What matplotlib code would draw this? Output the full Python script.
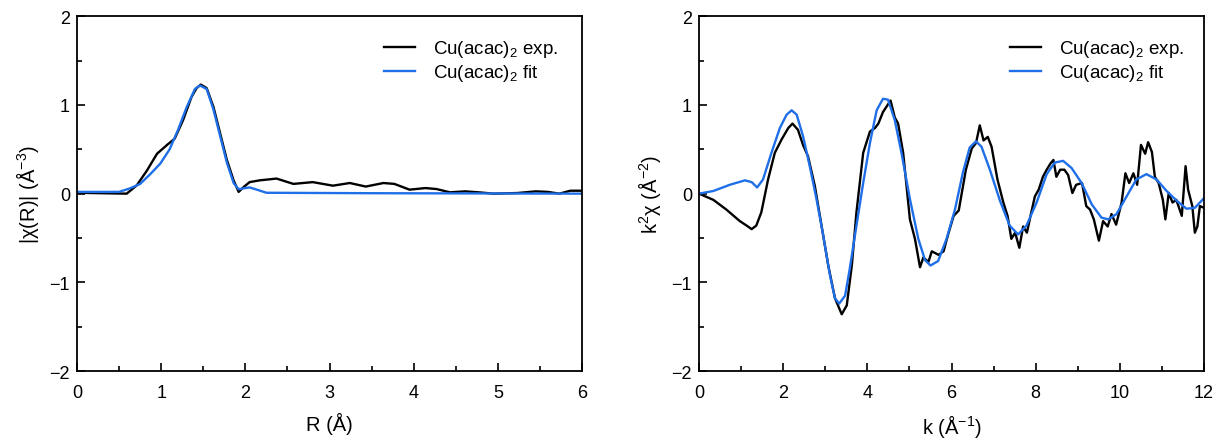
import matplotlib
matplotlib.use("Agg")
import matplotlib.pyplot as plt
from matplotlib.ticker import MultipleLocator

plt.rcParams['font.family'] = ['Liberation Sans', 'DejaVu Sans']
plt.rcParams['mathtext.default'] = 'regular'

#------------- DATA -------------#
# |chi(R)| experimental
r_exp = [0.0, 0.3, 0.59, 0.71, 0.83, 0.95, 1.07, 1.16, 1.26, 1.36, 1.42, 1.47, 1.54, 1.62,
         1.70, 1.78, 1.86, 1.92, 1.98, 2.05, 2.17, 2.37, 2.57, 2.8, 3.04, 3.24, 3.43,
         3.64, 3.77, 3.95, 4.14, 4.27, 4.43, 4.61, 4.77, 4.95, 5.23, 5.45, 5.59, 5.73,
         5.86, 6.0]
chir_exp = [0.01, 0.005, 0.0, 0.094, 0.26, 0.45, 0.55, 0.62, 0.83, 1.09, 1.19, 1.23, 1.19, 0.98,
            0.68, 0.38, 0.15, 0.02, 0.075, 0.13, 0.15, 0.17, 0.11, 0.13, 0.09, 0.12, 0.08,
            0.12, 0.11, 0.045, 0.063, 0.052, 0.015, 0.026, 0.015, 0.0, 0.007, 0.026, 0.02, 0.0,
            0.033, 0.033]

# |chi(R)| fit
r_fit = [0.0, 0.3, 0.5, 0.63, 0.75, 0.87, 0.99, 1.1, 1.2, 1.3, 1.4, 1.46, 1.54, 1.62,
         1.70, 1.78, 1.86, 1.92, 1.98, 2.05, 2.12, 2.25, 2.73, 3.5, 4.5, 6.0]
chir_fit = [0.02, 0.02, 0.02, 0.06, 0.11, 0.22, 0.34, 0.5, 0.72, 0.97, 1.18, 1.22, 1.18, 0.95,
            0.65, 0.35, 0.12, 0.05, 0.06, 0.07, 0.05, 0.01, 0.008, 0.005, 0.003, 0.0]

# k^2 chi(k) experimental
k_exp = [0.0, 0.34, 0.65, 0.97, 1.13, 1.25, 1.36, 1.48, 1.64, 1.80, 1.96, 2.12, 2.22, 2.35,
         2.47, 2.59, 2.75, 2.91, 3.07, 3.23, 3.39, 3.51, 3.63, 3.74, 3.90, 4.06, 4.18, 4.26,
         4.37, 4.55, 4.65, 4.73, 4.85, 5.01, 5.13, 5.25, 5.33, 5.45, 5.53, 5.69, 5.81, 5.93,
         6.05, 6.17, 6.34, 6.48, 6.58, 6.67, 6.76, 6.86, 6.95, 7.09,
         7.23, 7.33, 7.42, 7.51, 7.61, 7.7, 7.79, 7.89, 7.98, 8.07, 8.17, 8.26, 8.35, 8.42,
         8.49, 8.58, 8.68, 8.77, 8.87, 8.96, 9.1, 9.2, 9.29, 9.38, 9.5, 9.6, 9.71, 9.8,
         9.91, 10.04, 10.13, 10.22, 10.32, 10.41, 10.5, 10.6, 10.67, 10.76, 10.83, 10.92,
         11.02, 11.08, 11.16, 11.25, 11.34, 11.47, 11.56, 11.62, 11.72, 11.78, 11.84, 11.9, 12.0]
kchi_exp = [0.0, -0.07, -0.18, -0.31, -0.36, -0.40, -0.36, -0.21, 0.16, 0.46, 0.61, 0.74, 0.79, 0.72,
            0.55, 0.42, 0.09, -0.36, -0.81, -1.18, -1.36, -1.26, -0.81, -0.21, 0.46, 0.70, 0.74, 0.79,
            0.92, 1.05, 0.86, 0.79, 0.46, -0.29, -0.51, -0.83, -0.72, -0.77, -0.65, -0.69, -0.65, -0.44,
            -0.25, -0.19, 0.27, 0.51, 0.57, 0.77, 0.6, 0.64, 0.53, 0.16,
            -0.1, -0.25, -0.51, -0.44, -0.61, -0.37, -0.44, -0.22, -0.03, 0.045, 0.19, 0.27, 0.34, 0.38,
            0.19, 0.27, 0.27, 0.21, 0.007, 0.1, 0.12, -0.14, -0.18, -0.29, -0.53, -0.31, -0.37, -0.23,
            -0.35, -0.1, 0.23, 0.12, 0.23, 0.1, 0.55, 0.45, 0.58, 0.47, 0.19, 0.12,
            -0.07, -0.29, 0.007, -0.1, -0.07, -0.25, 0.31, 0.045, -0.14, -0.44, -0.37, -0.14, -0.16]

# k^2 chi(k) fit
k_fit = [0.0, 0.34, 0.73, 1.09, 1.25, 1.38, 1.52, 1.72, 1.92, 2.08, 2.20, 2.32, 2.47, 2.63,
         2.79, 2.95, 3.11, 3.23, 3.33, 3.47, 3.58, 3.74, 3.90, 4.06, 4.22, 4.37, 4.49, 4.65,
         4.81, 5.01, 5.21, 5.37, 5.50, 5.68, 5.88, 6.08, 6.27, 6.43, 6.58, 6.71, 6.91, 7.15,
         7.38, 7.58, 7.78, 8.02, 8.26, 8.45, 8.65, 8.85, 9.09, 9.33, 9.56, 9.72, 9.92, 10.16,
         10.39, 10.63, 10.87, 11.11, 11.35, 11.58, 11.78, 12.0]
kchi_fit = [0.0, 0.03, 0.10, 0.15, 0.13, 0.07, 0.16, 0.46, 0.74, 0.89, 0.94, 0.89, 0.65, 0.31,
            -0.06, -0.47, -0.92, -1.18, -1.24, -1.15, -0.85, -0.36, 0.12, 0.57, 0.94, 1.07, 1.06, 0.83,
            0.46, -0.06, -0.51, -0.75, -0.81, -0.76, -0.51, -0.18, 0.24, 0.52, 0.59, 0.53, 0.27, -0.08,
            -0.36, -0.46, -0.36, -0.10, 0.22, 0.35, 0.37, 0.29, 0.12, -0.12, -0.27, -0.29, -0.23, -0.03,
            0.16, 0.22, 0.16, 0.03, -0.08, -0.17, -0.16, -0.05]

label_exp = "Cu(acac)$_2$ exp."
label_fit = "Cu(acac)$_2$ fit"
blue = '#1f6fe8'

#------------- PLOT -------------#
fig = plt.figure(figsize=(12.17, 4.39), dpi=100)
ax1 = fig.add_axes([0.0633, 0.1526, 0.415, 0.808])
ax2 = fig.add_axes([0.5744, 0.1526, 0.415, 0.808])

ax1.plot(r_exp, chir_exp, color='black', lw=1.7, label=label_exp)
ax1.plot(r_fit, chir_fit, color=blue, lw=1.7, label=label_fit)
ax2.plot(k_exp, kchi_exp, color='black', lw=1.7, label=label_exp)
ax2.plot(k_fit, kchi_fit, color=blue, lw=1.7, label=label_fit)

ax1.set_xlim(0, 6)
ax2.set_xlim(0, 12)
ax1.xaxis.set_major_locator(MultipleLocator(1))
ax1.xaxis.set_minor_locator(MultipleLocator(0.5))
ax2.xaxis.set_major_locator(MultipleLocator(2))
ax2.xaxis.set_minor_locator(MultipleLocator(1))

for ax, lx in ((ax1, 0.574), (ax2, 0.583)):
    ax.set_ylim(-2, 2)
    ax.yaxis.set_major_locator(MultipleLocator(1))
    ax.yaxis.set_minor_locator(MultipleLocator(0.5))
    ax.tick_params(which='both', direction='in', top=False, right=False,
                   labelsize=13, width=1.2)
    ax.tick_params(axis='x', which='major', pad=9)
    ax.tick_params(axis='y', which='major', pad=5)
    ax.tick_params(which='major', length=6)
    ax.tick_params(which='minor', length=3.6)
    for s in ax.spines.values():
        s.set_linewidth(1.3)
    ax.legend(loc='upper left', bbox_to_anchor=(lx, 0.985), frameon=False,
              fontsize=13.5, handlelength=1.65, handletextpad=0.95, labelspacing=0.15)

ax1.set_xlabel("R (Å)", fontsize=14.5, labelpad=8)
ax1.set_ylabel("|χ(R)| (Å$^{-3}$)", fontsize=14.5, labelpad=6)
ax2.set_xlabel("k (Å$^{-1}$)", fontsize=14.5, labelpad=8)
ax2.set_ylabel("k$^2$χ (Å$^{-2}$)", fontsize=14.5, labelpad=6)

fig.savefig("out.png", dpi=100)
